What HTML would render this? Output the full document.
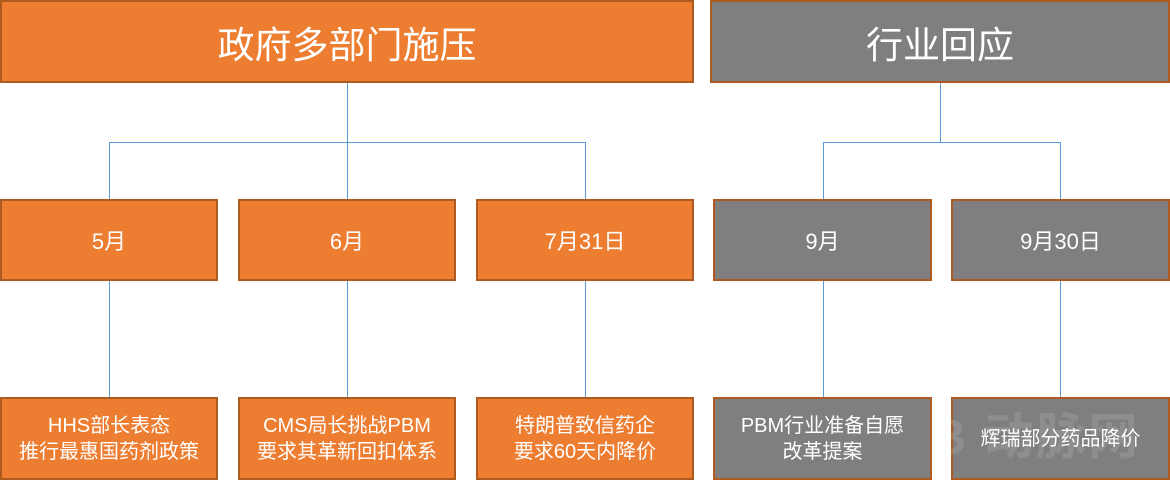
<!DOCTYPE html>
<html><head><meta charset="utf-8"><style>
body{margin:0;width:1170px;height:480px;background:#fff;position:relative;overflow:hidden;font-family:"Liberation Sans","Noto Sans CJK SC",sans-serif;}
.b{position:absolute;box-sizing:border-box;border:2px solid #ae5a21;color:#fff;display:flex;align-items:center;justify-content:center;text-align:center;}
.o{background:#ed7d31}.g{background:#7f7f7f}
.l{position:absolute;background:#5b9bd5}
.m{font-size:22px}.s{font-size:20px;line-height:26px}
</style></head><body>
<div class="b o" style="left:0;top:0;width:694px;height:83px;font-size:37px">政府多部门施压</div>
<div class="b g" style="left:710px;top:0;width:460px;height:83px;font-size:37px">行业回应</div>
<div class="l" style="left:347px;top:83px;width:1px;height:59px"></div>
<div class="l" style="left:109px;top:142px;width:477px;height:1px"></div>
<div class="l" style="left:109px;top:142px;width:1px;height:57px"></div>
<div class="l" style="left:347px;top:142px;width:1px;height:57px"></div>
<div class="l" style="left:585px;top:142px;width:1px;height:57px"></div>
<div class="l" style="left:940px;top:83px;width:1px;height:59px"></div>
<div class="l" style="left:823px;top:142px;width:238px;height:1px"></div>
<div class="l" style="left:823px;top:142px;width:1px;height:57px"></div>
<div class="l" style="left:1060px;top:142px;width:1px;height:57px"></div>
<div class="b o m" style="left:0;top:199px;width:218px;height:82px">5月</div>
<div class="b o m" style="left:238px;top:199px;width:218px;height:82px">6月</div>
<div class="b o m" style="left:476px;top:199px;width:218px;height:82px">7月31日</div>
<div class="b g m" style="left:713px;top:199px;width:219px;height:82px">9月</div>
<div class="b g m" style="left:951px;top:199px;width:219px;height:82px">9月30日</div>
<div class="l" style="left:109px;top:281px;width:1px;height:116px"></div>
<div class="l" style="left:347px;top:281px;width:1px;height:116px"></div>
<div class="l" style="left:585px;top:281px;width:1px;height:116px"></div>
<div class="l" style="left:823px;top:281px;width:1px;height:116px"></div>
<div class="l" style="left:1060px;top:281px;width:1px;height:116px"></div>
<div class="b o s" style="left:0;top:397px;width:218px;height:83px">HHS部长表态<br>推行最惠国药剂政策</div>
<div class="b o s" style="left:238px;top:397px;width:218px;height:83px">CMS局长挑战PBM<br>要求其革新回扣体系</div>
<div class="b o s" style="left:476px;top:397px;width:218px;height:83px">特朗普致信药企<br>要求60天内降价</div>
<div class="b g s" style="left:713px;top:397px;width:219px;height:83px">PBM行业准备自愿<br>改革提案</div>
<div class="b g s" style="left:951px;top:397px;width:219px;height:83px">辉瑞部分药品降价</div>
<div style="position:absolute;left:930px;top:402px;font-size:50px;line-height:70px;color:rgba(255,255,255,0.12);font-weight:bold;letter-spacing:2px">B 动脉网</div>
</body></html>
